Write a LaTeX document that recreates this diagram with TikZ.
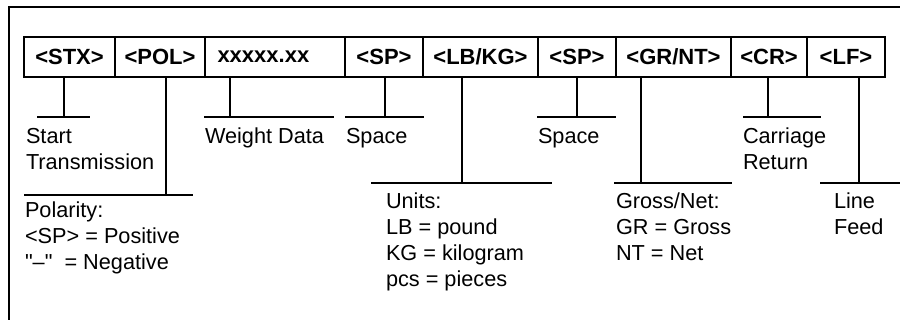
\documentclass[tikz,border=0pt]{standalone}
\usepackage{fontspec}
\setmainfont{Liberation Sans}
\newfontfamily\plainquotes{Liberation Sans}
\begin{document}
\begin{tikzpicture}[x=1pt,y=-1pt,
  line width=2pt,
  cellbox/.style={draw=black, line width=2pt, minimum height=40pt, inner sep=0pt,
    font=\fontsize{22}{26}\selectfont\bfseries},
  lbl/.style={anchor=base west, inner sep=0pt, align=left,
    font=\fontsize{21.7}{26}\selectfont},
  conn/.style={draw=black, line width=2pt}
]
\fill[white] (0,0) rectangle (900,320);
\useasboundingbox (0,0) rectangle (900,320);
% outer frame
\coordinate (fbl) at (9,321);
\coordinate (ftl) at (9,7);
\coordinate (ftr) at (901,7);
\draw[line width=2pt] (fbl) -- (ftl) -- (ftr);
% cells (x: 24,115,205,345,423,538,616,731,807,885 ; y: 37..77)
\node[cellbox, minimum width=91pt] (stx) at (69.5,57) {<STX>};
\node[cellbox, minimum width=90pt] (pol) at (160,57) {<POL>};
\node[cellbox, minimum width=140pt, text width=140pt, align=left] (wt) at (275,57) {\hspace*{12.5pt}xxxxx.xx};
\node[cellbox, minimum width=78pt] (sp1) at (384,57) {<SP>};
\node[cellbox, minimum width=115pt] (lbkg) at (480.5,57) {<LB/KG>};
\node[cellbox, minimum width=78pt] (sp2) at (577,57) {<SP>};
\node[cellbox, minimum width=115pt] (grnt) at (673.5,57) {<GR/NT>};
\node[cellbox, minimum width=76pt] (cr) at (769,57) {<CR>};
\node[cellbox, minimum width=78pt] (lf) at (846,57) {<LF>};
% tee coordinates
\coordinate (t1) at (64,117);   \coordinate (t1a) at (37,117);  \coordinate (t1b) at (90,117);
\coordinate (t2) at (166,195);  \coordinate (t2a) at (24,195);  \coordinate (t2b) at (193,195);
\coordinate (t3) at (230,117);  \coordinate (t3a) at (204,117); \coordinate (t3b) at (334,117);
\coordinate (t4) at (385,117);  \coordinate (t4a) at (345,117); \coordinate (t4b) at (424,117);
\coordinate (t5) at (462,183);  \coordinate (t5a) at (371,183); \coordinate (t5b) at (552,183);
\coordinate (t6) at (577,117);  \coordinate (t6a) at (537,117); \coordinate (t6b) at (616,117);
\coordinate (t7) at (641,183);  \coordinate (t7a) at (614,183); \coordinate (t7b) at (732,183);
\coordinate (t8) at (768,117);  \coordinate (t8a) at (743,117); \coordinate (t8b) at (821,117);
\coordinate (t9) at (859,183);  \coordinate (t9a) at (820,183); \coordinate (t9b) at (901,183);
% connectors
\draw[conn] (stx.south -| t1) -- (t1);  \draw[conn] (t1a) -- (t1b);
\draw[conn] (pol.south -| t2) -- (t2);  \draw[conn] (t2a) -- (t2b);
\draw[conn] (wt.south -| t3) -- (t3);   \draw[conn] (t3a) -- (t3b);
\draw[conn] (sp1.south -| t4) -- (t4);  \draw[conn] (t4a) -- (t4b);
\draw[conn] (lbkg.south -| t5) -- (t5); \draw[conn] (t5a) -- (t5b);
\draw[conn] (sp2.south -| t6) -- (t6);  \draw[conn] (t6a) -- (t6b);
\draw[conn] (grnt.south -| t7) -- (t7); \draw[conn] (t7a) -- (t7b);
\draw[conn] (cr.south -| t8) -- (t8);   \draw[conn] (t8a) -- (t8b);
\draw[conn] (lf.south -| t9) -- (t9);   \draw[conn] (t9a) -- (t9b);
% labels (base anchor = baseline of the last line)
\node[lbl] (lstart) at (25,170) {Start\\Transmission};
\node[lbl] (lweight) at (204,144) {Weight Data};
\node[lbl] (lsp1) at (345,144) {Space};
\node[lbl] (lsp2) at (537,144) {Space};
\node[lbl] (lcr) at (742,170) {Carriage\\Return};
\node[lbl] (lpol) at (24,270) {Polarity:\\<SP> = Positive\\{\plainquotes"–"}~~= Negative};
\node[lbl] (lunits) at (385,287) {Units:\\LB = pound\\KG = kilogram\\pcs = pieces};
\node[lbl] (lgn) at (615,261) {Gross/Net:\\GR = Gross\\NT = Net};
\node[lbl] (llf) at (833,235) {Line\\Feed};
\end{tikzpicture}
\end{document}
